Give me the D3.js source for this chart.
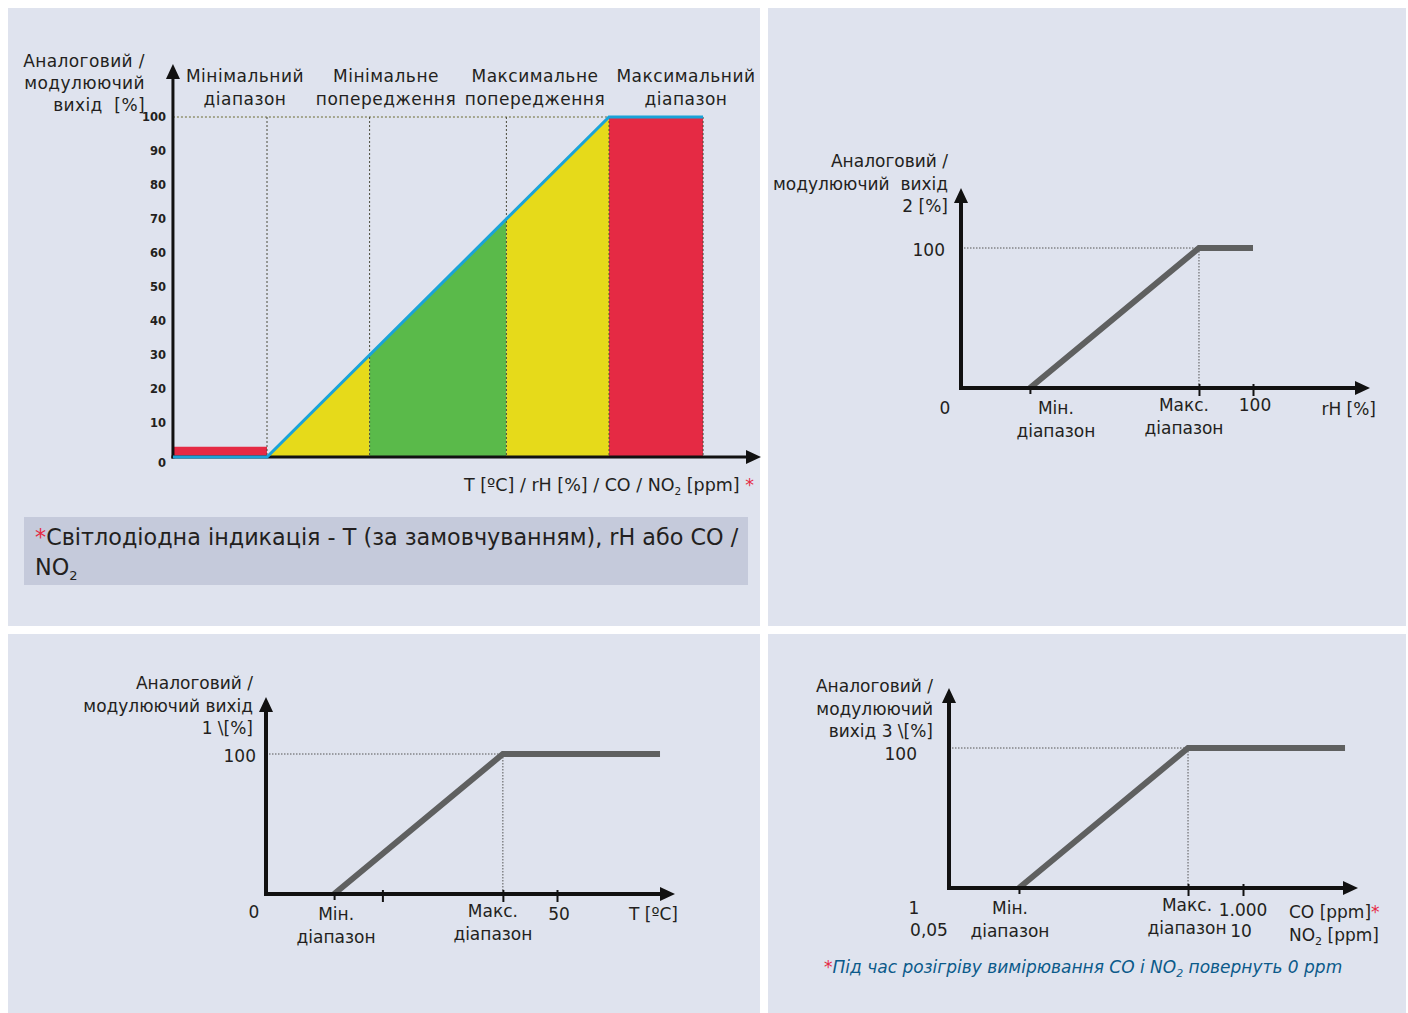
<!DOCTYPE html>
<html>
<head>
<meta charset="utf-8">
<script src="https://cdn.jsdelivr.net/npm/d3@7"></script>
<style>
  html, body { margin: 0; padding: 0; background: #fff; }
  svg text { font-family: "DejaVu Sans", sans-serif; fill: #231f20; }
</style>
</head>
<body>
<div id="chart"></div>
<script>
// ---- data ----
const zoneLabels = [["Мінімальний", "діапазон"], ["Мінімальне", "попередження"], ["Максимальне", "попередження"], ["Максимальний", "діапазон"]];
const zoneEdges = [-27.5, 0, 30, 70, 100, 127.5];
const zoneColors = ["#e52a44", "#e6da1a", "#5aba4a", "#e6da1a", "#e52a44"];
const minBarLevel = 3;
const outputLine = [[-27.5, 0], [0, 0], [100, 100], [127.5, 100]];
const outputTicks = [0, 10, 20, 30, 40, 50, 60, 70, 80, 90, 100];

const rhLine = [[23.6, 0], [81.5, 100], [100, 100]];
const rhTicks = [23.6, 81.5, 100];
const tLine = [[11.7, 0], [40.7, 100], [67.7, 100]];
const tTicks = [11.7, 20, 40.7, 50];
const coLine = [[238, 0], [813, 100], [1347, 100]];
const coTicks = [238, 813, 1000];

const W = 1408, H = 1013;
const bg = "#dfe3ee";
const sp2 = "\u00a0 ";

const svg = d3.select("#chart").append("svg")
    .attr("width", W).attr("height", H);

// panels
[[8, 8, 752, 618], [768, 8, 638, 618], [8, 634, 752, 379], [768, 634, 638, 379]].forEach(p => {
    svg.append("rect").attr("x", p[0]).attr("y", p[1]).attr("width", p[2]).attr("height", p[3]).attr("fill", bg);
});

function arrowAxes(g, x0, y0, xTip, yTip, w) {
    g.append("line").attr("x1", x0).attr("y1", y0 + w / 2).attr("x2", x0).attr("y2", yTip + 12)
        .attr("stroke", "#111").attr("stroke-width", w);
    g.append("line").attr("x1", x0 - w / 2).attr("y1", y0).attr("x2", xTip - 12).attr("y2", y0)
        .attr("stroke", "#111").attr("stroke-width", w);
    g.append("path").attr("d", `M${x0},${yTip} L${x0 - 7},${yTip + 15} L${x0 + 7},${yTip + 15} Z`).attr("fill", "#111");
    g.append("path").attr("d", `M${xTip},${y0} L${xTip - 15},${y0 - 7} L${xTip - 15},${y0 + 7} Z`).attr("fill", "#111");
}

function multiline(g, lines, x, y, dy, anchor, size) {
    const t = g.append("text").attr("x", x).attr("y", y).attr("text-anchor", anchor)
        .attr("font-size", size);
    lines.forEach((l, i) => t.append("tspan").attr("x", x).attr("dy", i ? dy : 0).text(l));
    return t;
}

// ---- main chart (top-left) ----
{
    const g = svg.append("g");
    const x = d3.scaleLinear().domain([0, 100]).range([267, 609]);
    const y = d3.scaleLinear().domain([0, 100]).range([457, 117]);

    // zone fills
    zoneColors.forEach((c, i) => {
        const a = zoneEdges[i], b = zoneEdges[i + 1];
        let pts;
        if (i === 0) pts = [[a, 0], [b, 0], [b, minBarLevel], [a, minBarLevel]];
        else if (i === zoneColors.length - 1) pts = [[a, 0], [b, 0], [b, 100], [a, 100]];
        else pts = [[a, 0], [b, 0], [b, b], [a, a]];
        g.append("path").attr("d", d3.line().x(d => x(d[0])).y(d => y(d[1]))(pts) + "Z").attr("fill", c);
    });

    // dotted guides
    g.append("line").attr("x1", x(zoneEdges[0])).attr("x2", x(100)).attr("y1", y(100)).attr("y2", y(100))
        .attr("stroke", "#6b6a30").attr("stroke-width", 1).attr("stroke-dasharray", "2,2");
    zoneEdges.slice(1).forEach(e => {
        g.append("line").attr("x1", x(e)).attr("x2", x(e)).attr("y1", y(100)).attr("y2", y(0))
            .attr("stroke", "#4a4a3a").attr("stroke-width", 1).attr("stroke-dasharray", "2,2");
    });

    arrowAxes(g, x(zoneEdges[0]), y(0), 761, 64, 3);

    // output line
    g.append("path").attr("d", d3.line().x(d => x(d[0])).y(d => y(d[1]))(outputLine))
        .attr("fill", "none").attr("stroke", "#1aa3d8").attr("stroke-width", 3);

    // y ticks
    const ax = g.append("g").attr("transform", `translate(${x(zoneEdges[0]) - 7},0)`)
        .call(d3.axisLeft(y).tickValues(outputTicks).tickSize(0).tickPadding(0));
    ax.select(".domain").remove();
    ax.selectAll("text").attr("font-family", "DejaVu Sans").attr("font-size", 11.5)
        .attr("font-weight", "bold").attr("fill", "#111")
        .attr("dy", (d) => d === 0 ? "0.8em" : "0.32em");

    // zone headers
    const headerX = [245, 386, 535, 686];
    zoneLabels.forEach((l, i) => {
        multiline(g, l, headerX[i], 82, 23, "middle", 17).attr("letter-spacing", 0.5);
    });

    multiline(g, ["Аналоговий /", "модулюючий", "вихід" + sp2 + "[%]"], 145, 67, 22, "end", 17)
        .attr("letter-spacing", 0.4);

    const xl = g.append("text").attr("x", 754).attr("y", 491).attr("text-anchor", "end")
        .attr("font-family", "DejaVu Sans Condensed").attr("font-size", 17.5);
    xl.append("tspan").text("T [ºC] / rH [%] / CO / NO");
    xl.append("tspan").attr("font-size", 10.5).attr("dy", 4).text("2");
    xl.append("tspan").attr("dy", -4).text(" [ppm] ");
    xl.append("tspan").style("fill", "#e52a44").text("*");

    // note box
    g.append("rect").attr("x", 24).attr("y", 517).attr("width", 724).attr("height", 68).attr("fill", "#c5cadb");
    const n1 = g.append("text").attr("x", 35).attr("y", 545)
        .attr("font-family", "DejaVu Sans Condensed").attr("font-size", 22.3);
    n1.append("tspan").style("fill", "#e52a44").text("*");
    n1.append("tspan").text("Світлодіодна індикація - T (за замовчуванням), rH або CO /");
    const n2 = g.append("text").attr("x", 35).attr("y", 575)
        .attr("font-family", "DejaVu Sans Condensed").attr("font-size", 22.3);
    n2.append("tspan").text("NO");
    n2.append("tspan").attr("font-size", 13).attr("dy", 5).text("2");
}

// ---- small charts ----
function smallChart(c) {
    const g = svg.append("g");
    const x = d3.scaleLinear().domain(c.xDomain).range([c.x0, c.xRef]);
    const y = d3.scaleLinear().domain([0, 100]).range([c.y0, c.y100]);
    const maxPt = c.line[1];

    g.append("line").attr("x1", c.x0).attr("x2", x(maxPt[0])).attr("y1", y(100)).attr("y2", y(100))
        .attr("stroke", "#555").attr("stroke-width", 1).attr("stroke-dasharray", "1.5,1.5");
    g.append("line").attr("x1", x(maxPt[0])).attr("x2", x(maxPt[0])).attr("y1", y(100)).attr("y2", c.y0)
        .attr("stroke", "#555").attr("stroke-width", 1).attr("stroke-dasharray", "1.5,1.5");

    g.append("path").attr("d", d3.line().x(d => x(d[0])).y(d => y(d[1]))(c.line))
        .attr("fill", "none").attr("stroke", "#5f6060").attr("stroke-width", 6);

    arrowAxes(g, c.x0, c.y0, c.xTip, c.yTip, 4);

    const ax = g.append("g").attr("transform", `translate(0,${c.y0})`)
        .call(d3.axisBottom(x).tickValues(c.ticks).tickSize(8).tickFormat(""));
    ax.select(".domain").remove();
    ax.selectAll("line").attr("stroke", "#111").attr("stroke-width", 2)
        .attr("y1", (d, i) => i === 0 ? 0 : -4).attr("y2", (d, i) => i === 0 ? 6 : 8);

    multiline(g, c.yTitle, c.x0 - c.titleDx, c.yTitleY, 22.5, "end", 17);
    g.append("text").attr("x", c.x0 - c.hundredDx).attr("y", y(100) + c.hundredDy).attr("text-anchor", "end")
        .attr("font-size", 17).text("100");

    const ly = c.y0 + 26;
    multiline(g, ["Мін.", "діапазон"], x(c.line[0][0]) + c.minDx, ly, 22.5, "middle", 17);
    multiline(g, ["Макс.", "діапазон"], x(maxPt[0]) + c.maxDx, ly - 3, 22.5, "middle", 17);
    return { g, x, y };
}

// top-right: rH
{
    const r = smallChart({
        x0: 961, y0: 388, y100: 248, xTip: 1370, yTip: 188,
        xDomain: [0, 100], xRef: 1253, line: rhLine, ticks: rhTicks,
        yTitle: ["Аналоговий /", "модулюючий" + sp2 + "вихід", "2 [%]"], yTitleY: 167, titleDx: 13,
        hundredDx: 16, hundredDy: 8,
        minDx: 26, maxDx: -15
    });
    r.g.append("text").attr("x", 945).attr("y", 414).attr("text-anchor", "middle").attr("font-size", 17).text("0");
    r.g.append("text").attr("x", r.x(100) + 2).attr("y", 411).attr("text-anchor", "middle").attr("font-size", 17).text("100");
    r.g.append("text").attr("x", 1376).attr("y", 415).attr("text-anchor", "end").attr("font-size", 17).text("rH [%]");
}

// bottom-left: T
{
    const r = smallChart({
        x0: 266, y0: 894, y100: 754, xTip: 675, yTip: 697,
        xDomain: [0, 50], xRef: 557, line: tLine, ticks: tTicks,
        yTitle: ["Аналоговий /", "модулюючий вихід", "1 \\[%]"], yTitleY: 689, titleDx: 13,
        hundredDx: 10, hundredDy: 8,
        minDx: 2, maxDx: -10
    });
    r.g.append("text").attr("x", 254).attr("y", 918).attr("text-anchor", "middle").attr("font-size", 17).text("0");
    r.g.append("text").attr("x", r.x(50) + 2).attr("y", 920).attr("text-anchor", "middle").attr("font-size", 17).text("50");
    r.g.append("text").attr("x", 678).attr("y", 920).attr("text-anchor", "end").attr("font-size", 17).text("T [ºC]");
}

// bottom-right: CO / NO2
{
    const r = smallChart({
        x0: 949, y0: 888, y100: 748, xTip: 1358, yTip: 688,
        xDomain: [0, 1000], xRef: 1243, line: coLine, ticks: coTicks,
        yTitle: ["Аналоговий /", "модулюючий", "вихід 3 \\[%]"], yTitleY: 692, titleDx: 16,
        hundredDx: 32, hundredDy: 12,
        minDx: -9, maxDx: -1
    });
    r.g.append("text").attr("x", 914).attr("y", 914).attr("text-anchor", "middle").attr("font-size", 17).text("1");
    r.g.append("text").attr("x", 929).attr("y", 936).attr("text-anchor", "middle").attr("font-size", 17).text("0,05");
    r.g.append("text").attr("x", r.x(1000)).attr("y", 916).attr("text-anchor", "middle").attr("font-size", 17).text("1.000");
    r.g.append("text").attr("x", r.x(1000) - 2).attr("y", 937).attr("text-anchor", "middle").attr("font-size", 17).text("10");
    const co = r.g.append("text").attr("x", 1289).attr("y", 918).attr("font-size", 17);
    co.append("tspan").text("CO [ppm]");
    co.append("tspan").style("fill", "#e52a44").text("*");
    const no = r.g.append("text").attr("x", 1289).attr("y", 941).attr("font-size", 17);
    no.append("tspan").text("NO");
    no.append("tspan").attr("font-size", 11).attr("dy", 4).text("2");
    no.append("tspan").attr("dy", -4).text(" [ppm]");

    const fn = r.g.append("text").attr("x", 824).attr("y", 973)
        .attr("font-family", "DejaVu Sans Condensed").attr("font-style", "italic").attr("font-size", 17);
    fn.append("tspan").style("fill", "#e52a44").text("*");
    fn.append("tspan").style("fill", "#0b5a8a").text("Під час розігріву вимірювання CO і NO");
    fn.append("tspan").style("fill", "#0b5a8a").attr("font-size", 11).attr("dy", 4).text("2");
    fn.append("tspan").style("fill", "#0b5a8a").attr("dy", -4).text(" повернуть 0 ppm");
}
</script>
</body>
</html>
